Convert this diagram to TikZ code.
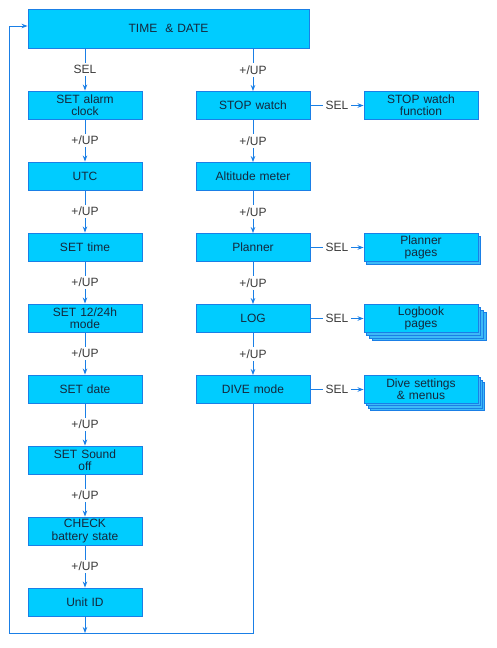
\documentclass[tikz,border=0pt]{standalone}
\usepackage{fontspec}
\setmainfont{Liberation Sans}
\usepackage{xcolor}
\usetikzlibrary{arrows.meta, positioning, shadows}

\definecolor{boxfill}{HTML}{00CCFF}
\definecolor{boxedge}{HTML}{1A7FE6}
\definecolor{pagefill}{HTML}{3DBAF7}
\definecolor{boxtext}{HTML}{14283C}
\definecolor{labeltext}{HTML}{3A3A3A}

\begin{document}
\begin{tikzpicture}[x=1pt, y=1pt, node distance=42.1pt and 53.1pt, every node/.style={font=\fontsize{12}{12.4}\selectfont}]
      % Styles
      \tikzset{
        menu/.style={rectangle, draw=boxedge, fill=boxfill, line width=0.9pt, text=boxtext, text width=110pt, align=center, minimum width=114pt, minimum height=28pt, inner sep=1pt},
        key/.style={fill=white, text=labeltext, inner sep=2.5pt},
        arrow/.style={-{Stealth[length=6pt, width=4.5pt]}, draw=boxedge, line width=0.9pt}
      }
      \useasboundingbox (0,0) rectangle (496,-648);

      % Nodes
      \node (time) [menu, text width=277pt, minimum width=281pt, minimum height=39pt] at (168.5,-28.5) {TIME~ \& DATE};

      \node (alarm) [menu] at (85,-105) {SET alarm\\clock};
      \node (utc) [menu, below=of alarm] {UTC};
      \node (settime) [menu, below=of utc] {SET time};
      \node (mode) [menu, below=of settime] {SET 12/24h\\mode};
      \node (date) [menu, below=of mode] {SET date};
      \node (sound) [menu, below=of date] {SET Sound\\off};
      \node (battery) [menu, below=of sound] {CHECK\\battery state};
      \node (unit) [menu, below=of battery] {Unit ID};

      \node (stop) [menu] at (253,-105.5) {STOP watch};
      \node (alt) [menu, below=of stop] {Altitude meter};
      \node (planner) [menu, below=of alt] {Planner};
      \node (log) [menu, below=of planner] {LOG};
      \node (dive) [menu, below=of log] {DIVE mode};

      \node (stopfn) [menu, right=of stop] {STOP watch\\function};
      \node (plannerp) [menu, right=of planner, copy shadow={shadow xshift=2.5pt, shadow yshift=-3pt, fill=pagefill, draw=boxedge, line width=0.9pt}] {Planner\\pages};
      \node (logp) [menu, right=of log,
        copy shadow={shadow xshift=8.4pt, shadow yshift=-8.4pt, fill=pagefill, draw=boxedge, line width=0.9pt},
        copy shadow={shadow xshift=5.6pt, shadow yshift=-5.6pt, fill=pagefill, draw=boxedge, line width=0.9pt},
        copy shadow={shadow xshift=2.8pt, shadow yshift=-2.8pt, fill=pagefill, draw=boxedge, line width=0.9pt}] {Logbook\\pages};
      \node (divep) [menu, right=of dive,
        copy shadow={shadow xshift=6.9pt, shadow yshift=-6.9pt, fill=pagefill, draw=boxedge, line width=0.9pt},
        copy shadow={shadow xshift=4.6pt, shadow yshift=-4.6pt, fill=pagefill, draw=boxedge, line width=0.9pt},
        copy shadow={shadow xshift=2.3pt, shadow yshift=-2.3pt, fill=pagefill, draw=boxedge, line width=0.9pt}] {Dive settings\\\& menus};

      \coordinate (loopl) at (9.5,-633);

      % Arrows
      \draw [arrow] (time.south -| alarm) -- node[key] {SEL} (alarm);
      \draw [arrow] (alarm) -- node[key] {+/UP} (utc);
      \draw [arrow] (utc) -- node[key] {+/UP} (settime);
      \draw [arrow] (settime) -- node[key] {+/UP} (mode);
      \draw [arrow] (mode) -- node[key] {+/UP} (date);
      \draw [arrow] (date) -- node[key] {+/UP} (sound);
      \draw [arrow] (sound) -- node[key] {+/UP} (battery);
      \draw [arrow] (battery) -- node[key] {+/UP} (unit);
      \draw [arrow] (unit) -- (unit |- loopl);

      \draw [arrow] (time.south -| stop) -- node[key] {+/UP} (stop);
      \draw [arrow] (stop) -- node[key] {+/UP} (alt);
      \draw [arrow] (alt) -- node[key] {+/UP} (planner);
      \draw [arrow] (planner) -- node[key] {+/UP} (log);
      \draw [arrow] (log) -- node[key] {+/UP} (dive);

      \draw [arrow] (stop) -- node[key] {SEL} (stopfn);
      \draw [arrow] (planner) -- node[key] {SEL} (plannerp);
      \draw [arrow] (log) -- node[key] {SEL} (logp);
      \draw [arrow] (dive) -- node[key] {SEL} (divep);

      \draw [arrow] (dive) |- (loopl) |- ([yshift=2.5pt]time.west);
\end{tikzpicture}
\end{document}
